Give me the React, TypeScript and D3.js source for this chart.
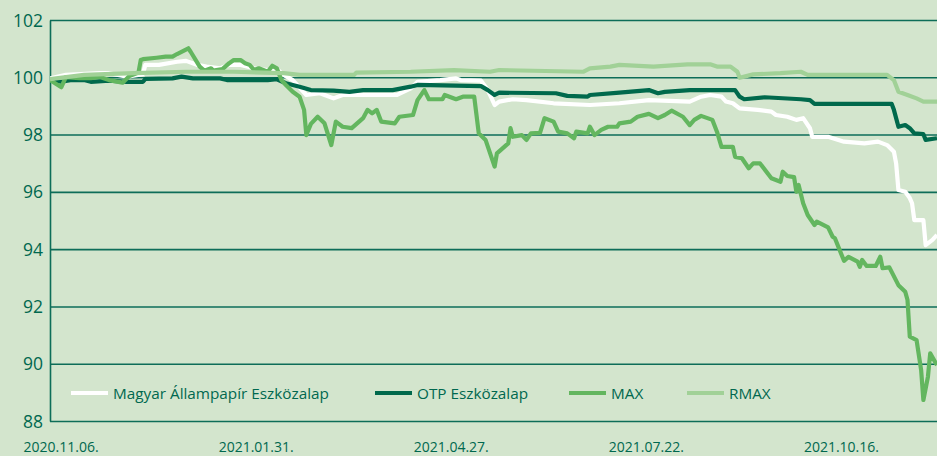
import React, { useEffect, useRef } from "react";
import * as d3 from "d3";

// DATA
const yTicks = [88, 90, 92, 94, 96, 98, 100, 102];
const xTickDates = ["2020-11-06", "2021-01-31", "2021-04-27", "2021-07-22", "2021-10-16"];
const xTickLabels = ["2020.11.06.", "2021.01.31.", "2021.04.27.", "2021.07.22.", "2021.10.16."];

const seriesNames = ["Magyar Állampapír Eszközalap", "OTP Eszközalap", "MAX", "RMAX"];

const mapDates = [
  "2020-11-02", "2020-11-09", "2020-11-24", "2020-11-28", "2020-12-06", "2020-12-13", "2020-12-14",
  "2020-12-20", "2020-12-28", "2021-01-01", "2021-01-06", "2021-01-10", "2021-01-16", "2021-01-20",
  "2021-01-25", "2021-01-31", "2021-02-06", "2021-02-10", "2021-02-13", "2021-02-17", "2021-02-23",
  "2021-03-01", "2021-03-07", "2021-03-11", "2021-03-22", "2021-04-04", "2021-04-10", "2021-04-13",
  "2021-04-23", "2021-04-30", "2021-05-02", "2021-05-11", "2021-05-14", "2021-05-17", "2021-05-19",
  "2021-05-25", "2021-05-31", "2021-06-12", "2021-06-28", "2021-07-11", "2021-07-24", "2021-08-11",
  "2021-08-16", "2021-08-20", "2021-08-25", "2021-08-27", "2021-08-30", "2021-09-02", "2021-09-10",
  "2021-09-16", "2021-09-18", "2021-09-23", "2021-09-27", "2021-09-30", "2021-10-03", "2021-10-04",
  "2021-10-11", "2021-10-18", "2021-10-27", "2021-11-02", "2021-11-06", "2021-11-09", "2021-11-10",
  "2021-11-11", "2021-11-14", "2021-11-16", "2021-11-17", "2021-11-18", "2021-11-22", "2021-11-23",
  "2021-11-26", "2021-11-28",
];
const mapValues = [
  99.98, 100.1, 100.16, 100.16, 100.04, 100.13, 100.45,
  100.45, 100.56, 100.59, 100.45, 100.39, 100.33, 100.45,
  100.45, 100.33, 100.27, 100.3, 100.1, 99.92, 99.4,
  99.46, 99.28, 99.4, 99.4, 99.4, 99.63, 99.86,
  99.92, 99.98, 99.92, 99.9, 99.57, 99.05, 99.17,
  99.25, 99.22, 99.11, 99.05, 99.11, 99.22, 99.17,
  99.34, 99.4, 99.34, 99.17, 99.11, 98.93, 98.88,
  98.82, 98.7, 98.64, 98.53, 98.59, 98.24, 97.94,
  97.94, 97.77, 97.71, 97.77, 97.65, 97.42, 97.0,
  96.08, 96.02, 95.8, 95.62, 95.03, 95.03, 94.16,
  94.34, 94.51,
];

const otpDates = [
  "2020-11-02", "2020-11-07", "2020-11-11", "2020-11-17", "2020-11-20", "2020-11-28", "2020-12-06",
  "2020-12-13", "2020-12-14", "2020-12-26", "2020-12-30", "2021-01-04", "2021-01-16", "2021-01-19",
  "2021-02-06", "2021-02-10", "2021-02-14", "2021-02-20", "2021-02-25", "2021-03-07", "2021-03-14",
  "2021-03-20", "2021-04-02", "2021-04-10", "2021-04-13", "2021-05-11", "2021-05-14", "2021-05-17",
  "2021-05-19", "2021-06-13", "2021-06-18", "2021-06-27", "2021-06-28", "2021-07-11", "2021-07-24",
  "2021-07-28", "2021-07-31", "2021-08-11", "2021-08-31", "2021-09-02", "2021-09-04", "2021-09-13",
  "2021-09-29", "2021-10-03", "2021-10-05", "2021-11-08", "2021-11-09", "2021-11-11", "2021-11-14",
  "2021-11-16", "2021-11-18", "2021-11-22", "2021-11-23", "2021-11-28",
];
const otpValues = [
  99.92, 99.86, 99.92, 99.92, 99.86, 99.9, 99.86,
  99.86, 99.96, 99.98, 100.04, 99.98, 99.98, 99.92,
  99.92, 99.95, 99.81, 99.69, 99.57, 99.55, 99.51,
  99.57, 99.57, 99.69, 99.75, 99.71, 99.57, 99.4,
  99.48, 99.46, 99.37, 99.34, 99.4, 99.48, 99.57,
  99.46, 99.51, 99.57, 99.57, 99.34, 99.25, 99.32,
  99.25, 99.22, 99.09, 99.09, 98.88, 98.29, 98.35,
  98.24, 98.06, 98.03, 97.83, 97.89,
];

const maxDates = [
  "2020-11-02", "2020-11-07", "2020-11-09", "2020-11-15", "2020-11-20", "2020-11-24", "2020-11-28",
  "2020-12-04", "2020-12-07", "2020-12-11", "2020-12-12", "2020-12-13", "2020-12-19", "2020-12-23",
  "2020-12-26", "2020-12-28", "2021-01-02", "2021-01-03", "2021-01-07", "2021-01-09", "2021-01-12",
  "2021-01-13", "2021-01-17", "2021-01-20", "2021-01-22", "2021-01-25", "2021-01-27", "2021-01-29",
  "2021-01-31", "2021-02-02", "2021-02-04", "2021-02-06", "2021-02-08", "2021-02-10", "2021-02-12",
  "2021-02-14", "2021-02-17", "2021-02-20", "2021-02-22", "2021-02-23", "2021-02-25", "2021-02-28",
  "2021-03-03", "2021-03-06", "2021-03-08", "2021-03-11", "2021-03-15", "2021-03-20", "2021-03-22",
  "2021-03-24", "2021-03-26", "2021-03-28", "2021-04-03", "2021-04-05", "2021-04-11", "2021-04-13",
  "2021-04-16", "2021-04-18", "2021-04-24", "2021-04-25", "2021-04-30", "2021-05-03", "2021-05-08",
  "2021-05-10", "2021-05-13", "2021-05-17", "2021-05-18", "2021-05-23", "2021-05-24", "2021-05-25",
  "2021-05-29", "2021-05-31", "2021-06-02", "2021-06-06", "2021-06-08", "2021-06-12", "2021-06-14",
  "2021-06-18", "2021-06-21", "2021-06-22", "2021-06-27", "2021-06-28", "2021-06-30", "2021-07-03",
  "2021-07-06", "2021-07-10", "2021-07-11", "2021-07-16", "2021-07-19", "2021-07-24", "2021-07-28",
  "2021-07-31", "2021-08-03", "2021-08-08", "2021-08-11", "2021-08-13", "2021-08-16", "2021-08-21",
  "2021-08-23", "2021-08-25", "2021-08-30", "2021-08-31", "2021-09-03", "2021-09-06", "2021-09-08",
  "2021-09-11", "2021-09-16", "2021-09-20", "2021-09-21", "2021-09-23", "2021-09-26", "2021-09-27",
  "2021-09-28", "2021-09-30", "2021-10-02", "2021-10-05", "2021-10-06", "2021-10-11", "2021-10-13",
  "2021-10-14", "2021-10-18", "2021-10-20", "2021-10-24", "2021-10-25", "2021-10-26", "2021-10-28",
  "2021-11-01", "2021-11-03", "2021-11-04", "2021-11-07", "2021-11-11", "2021-11-14", "2021-11-15",
  "2021-11-16", "2021-11-19", "2021-11-21", "2021-11-22", "2021-11-24", "2021-11-25", "2021-11-28",
];
const maxValues = [
  99.92, 99.67, 100.02, 99.99, 99.99, 100.03, 99.92,
  99.83, 100.06, 100.18, 100.62, 100.65, 100.7, 100.74,
  100.74, 100.83, 101.03, 100.91, 100.39, 100.25, 100.33,
  100.25, 100.3, 100.51, 100.62, 100.62, 100.51, 100.45,
  100.27, 100.33, 100.27, 100.21, 100.42, 100.33, 99.92,
  99.75, 99.51, 99.34, 98.88, 98.0, 98.39, 98.64,
  98.41, 97.65, 98.47, 98.29, 98.24, 98.59, 98.88,
  98.76, 98.88, 98.47, 98.41, 98.64, 98.7, 99.22,
  99.57, 99.25, 99.25, 99.4, 99.25, 99.34, 99.34,
  98.06, 97.83, 96.9, 97.36, 97.71, 98.24, 97.94,
  98.0, 97.83, 98.06, 98.08, 98.59, 98.47, 98.12,
  98.06, 97.89, 98.12, 98.06, 98.29, 98.0, 98.18,
  98.29, 98.29, 98.41, 98.47, 98.64, 98.74, 98.59,
  98.7, 98.85, 98.64, 98.35, 98.53, 98.67, 98.53,
  98.12, 97.59, 97.59, 97.24, 97.19, 96.84, 97.01,
  97.01, 96.49, 96.37, 96.72, 96.57, 96.53, 96.02,
  96.26, 95.62, 95.21, 94.86, 94.98, 94.78, 94.45,
  94.4, 93.61, 93.75, 93.58, 93.4, 93.64, 93.43,
  93.43, 93.75, 93.35, 93.38, 92.76, 92.53, 92.24,
  90.96, 90.84, 89.8, 88.75, 89.56, 90.38, 89.97,
];

const rmaxDates = [
  "2020-11-02", "2020-11-17", "2020-12-09", "2021-01-01", "2021-01-22", "2021-02-13", "2021-02-20",
  "2021-03-16", "2021-03-17", "2021-04-10", "2021-04-29", "2021-05-15", "2021-05-19", "2021-06-25",
  "2021-06-28", "2021-07-07", "2021-07-11", "2021-07-26", "2021-08-10", "2021-08-20", "2021-08-23",
  "2021-08-29", "2021-09-01", "2021-09-02", "2021-09-08", "2021-09-20", "2021-09-29", "2021-10-02",
  "2021-10-18", "2021-11-06", "2021-11-09", "2021-11-11", "2021-11-15", "2021-11-19", "2021-11-22",
  "2021-11-28",
];
const rmaxValues = [
  99.95, 100.1, 100.16, 100.21, 100.21, 100.16, 100.1,
  100.1, 100.18, 100.21, 100.27, 100.21, 100.27, 100.21,
  100.33, 100.39, 100.45, 100.39, 100.47, 100.47, 100.39,
  100.39, 100.21, 100.0, 100.12, 100.16, 100.21, 100.1,
  100.1, 100.1, 99.92, 99.51, 99.4, 99.28, 99.17,
  99.17,
];

const colors = ["#ffffff", "#00694c", "#63b65f", "#a1d197"];
const textColor = "#00684f";
const bgColor = "#d3e5cd";
const gridColor = "#0d6d58";

export default function App() {
  const ref = useRef<SVGSVGElement>(null);

  useEffect(() => {
    const width = 937;
    const height = 456;
    const left = 50;
    const top = 20.5;
    const bottom = 421.5;
    const font = "'Open Sans', 'Noto Sans', sans-serif";

    const svg = d3.select(ref.current);
    svg.selectAll("*").remove();

    svg.append("rect").attr("width", width).attr("height", height).attr("fill", bgColor);

    const parse = d3.utcParse("%Y-%m-%d");

    // SCALES
    const x = d3
      .scaleUtc()
      .domain([parse("2020-11-02")!, parse("2021-11-28")!])
      .range([left, width]);
    const y = d3.scaleLinear().domain([88, 102]).range([bottom, top]);

    // GRID
    svg
      .append("g")
      .selectAll("line")
      .data(yTicks)
      .join("line")
      .attr("x1", left)
      .attr("x2", width)
      .attr("y1", (d) => y(d))
      .attr("y2", (d) => y(d))
      .attr("stroke", gridColor)
      .attr("stroke-width", 1.6);

    svg
      .append("line")
      .attr("x1", left + 0.5)
      .attr("x2", left + 0.5)
      .attr("y1", top)
      .attr("y2", bottom)
      .attr("stroke", gridColor)
      .attr("stroke-width", 1.6);

    // Y LABELS
    svg
      .append("g")
      .selectAll("text")
      .data(yTicks)
      .join("text")
      .attr("x", 43)
      .attr("y", (d) => y(d))
      .attr("dy", "0.35em")
      .attr("text-anchor", "end")
      .attr("font-family", font)
      .attr("font-size", 17.5)
      .attr("fill", textColor)
      .text((d) => d);

    // X LABELS
    svg
      .append("g")
      .selectAll("text")
      .data(xTickDates)
      .join("text")
      .attr("x", (d) => x(parse(d)!) + 2)
      .attr("y", 452)
      .attr("text-anchor", "middle")
      .attr("font-family", font)
      .attr("font-size", 14)
      .attr("fill", textColor)
      .text((d, i) => xTickLabels[i]);

    // LINES
    svg
      .append("clipPath")
      .attr("id", "plot-clip")
      .append("rect")
      .attr("x", left)
      .attr("y", 0)
      .attr("width", width - left)
      .attr("height", bottom);

    const line = d3
      .line<[Date, number]>()
      .x((d) => x(d[0]))
      .y((d) => y(d[1]));

    const allSeries = [
      d3.zip(mapDates, mapValues),
      d3.zip(otpDates, otpValues),
      d3.zip(maxDates, maxValues),
      d3.zip(rmaxDates, rmaxValues),
    ].map((s) => s.map((p) => [parse(p[0] as string)!, p[1] as number] as [Date, number]));

    svg
      .append("g")
      .attr("clip-path", "url(#plot-clip)")
      .selectAll("path")
      .data(allSeries)
      .join("path")
      .attr("fill", "none")
      .attr("stroke", (d, i) => colors[i])
      .attr("stroke-width", 4.2)
      .attr("stroke-linejoin", "round")
      .attr("d", line);

    // LEGEND
    const legendX = [71, 375, 569, 687];
    const legend = svg
      .append("g")
      .selectAll("g")
      .data(seriesNames)
      .join("g")
      .attr("transform", (d, i) => `translate(${legendX[i]},393)`);
    legend
      .append("line")
      .attr("x1", 0)
      .attr("x2", 37)
      .attr("stroke", (d, i) => colors[i])
      .attr("stroke-width", 4);
    legend
      .append("text")
      .attr("x", 42)
      .attr("y", 5.5)
      .attr("font-family", font)
      .attr("font-size", 15.3)
      .attr("fill", textColor)
      .text((d) => d);
  }, []);

  return (
    <svg
      ref={ref}
      width={937}
      height={456}
      style={{ position: "absolute", left: 0, top: 0, display: "block" }}
    />
  );
}
